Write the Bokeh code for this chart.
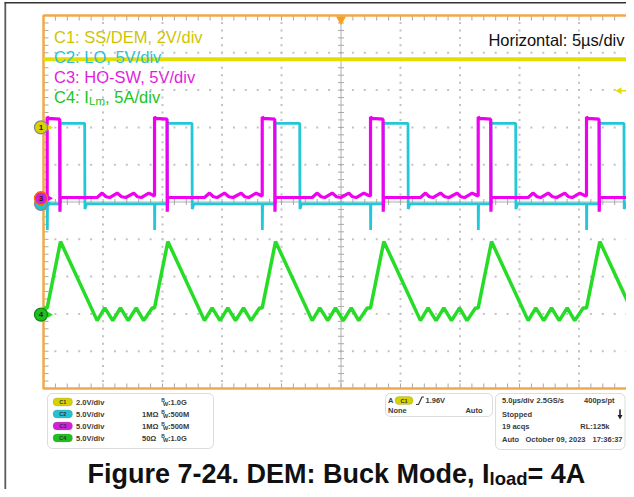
import numpy as np
from bokeh.plotting import figure
from bokeh.models import Range1d, BoxAnnotation
from bokeh.core.properties import value
from bokeh.embed import file_html
from bokeh.resources import INLINE

# ---------------- values ----------------
us_per_div = 5.0
channel_names = ["C1", "C2", "C3", "C4"]
volts_per_div = [2.0, 5.0, 5.0, 5.0]           # C4 is A/div
ground_div = [2.0, -0.05, 0.1, -3.02]          # channel reference markers (div from centre)
trigger_level_v = 1.96

# rising edges of HO-SW (start of each switching cycle), microseconds
cycle_start_us = [0.31, 9.33, 18.38, 27.48, 36.53, 45.63]

# C1: SS/DEM (V)
c1_t_us = [0.0, 50.0]
c1_v = [3.66, 3.66]

# C2: LO (V), one cycle relative to the cycle start
c2_start_v = 0.0
c2_dt_us = [0.00, 0.01, 0.03, 1.07, 1.08, 1.20, 3.15, 3.17, 3.30, 9.00]
c2_v = [0.0, -3.5, 0.0, 0.0, 10.95, 10.8, 10.8, -0.7, 0.0, 0.0]

# C3: HO-SW (V), one cycle relative to the cycle start
c3_start_v = 0.4
c3_dt_us = [0.00, 0.00, 0.12, 1.05, 1.07, 1.10, 4.20, 4.62, 4.95, 5.25, 5.88,
            6.25, 6.60, 7.28, 7.60, 7.90, 8.54, 8.90]
c3_v = [0.3, 10.9, 10.7, 10.6, -1.8, 0.1, 0.1, 0.7, 0.2, 0.1, 0.7,
        0.2, 0.1, 0.7, 0.2, 0.1, 0.7, 0.4]

# C4: inductor current ILm (A), one cycle relative to the cycle start
c4_start_a = 0.85
c4_dt_us = [0.00, 1.12, 4.20, 4.84, 5.51, 6.16, 6.81, 7.48, 8.11, 8.82]
c4_a = [0.9, 9.8, -0.8, 0.9, -0.8, 0.9, -0.8, 0.9, -0.8, 0.9]

legend_lines = ["C1: SS/DEM, 2V/div", "C2: LO, 5V/div", "C3: HO-SW, 5V/div"]
info_vdiv = ["2.0V/div", "5.0V/div", "5.0V/div", "5.0V/div"]
info_term = ["", "1M\u03a9", "1M\u03a9", "50\u03a9"]
info_bw = [":1.0G", ":500M", ":500M", ":1.0G"]

# ---------------- colours ----------------
trace_col = ["#e2de00", "#22c8d8", "#f000f0", "#26dc26"]
text_col = ["#d0c400", "#2cc2d2", "#e01ee0", "#22c422"]
pill_col = ["#d8d200", "#24c2d0", "#d420d4", "#1fbf1f"]
ORANGE = "#f2a84a"
FONT = "Liberation Sans"

# ---------------- geometry (graticule: 10 x 10 div) ----------------
W, H = 626, 489
PX_US = 59.5 / us_per_div
PX_DIV = 37.3


def X(px):
    return (px - 43.0) / PX_US


def Y(py):
    return (201.5 - py) / PX_DIV


p = figure(width=W, height=H, x_range=Range1d(X(0), X(W)),
           y_range=Range1d(Y(H), Y(0)), toolbar_location=None,
           output_backend="svg", min_border=0, x_axis_location=None,
           y_axis_location=None, outline_line_color=None,
           background_fill_color="white", border_fill_color="white")
p.grid.visible = False

# document frame
p.line([X(4.8), X(4.8)], [Y(2), Y(H)], line_color="#5a5a5a", line_width=1.8)
p.line([X(4), X(W)], [Y(2.3), Y(2.3)], line_color="#333333", line_width=1.5)

# ---------------- graticule ----------------
minor_y = np.round(np.arange(-5.0, 5.001, 0.2), 3)
minor_x = np.arange(0.0, 50.001, 1.0)
dx, dy = [], []
for k in range(1, 10):
    if k == 5:
        continue
    xv = k * us_per_div
    dx += [xv] * len(minor_y[1:-1]); dy += list(minor_y[1:-1])
for k in range(-4, 5):
    if k == 0:
        continue
    dx += list(minor_x[1:]); dy += [k] * len(minor_x[1:])
p.scatter(dx, dy, marker="square", size=2, fill_color="#c2c2c2", line_color=None)

# centre cross with ticks
cx = 5 * us_per_div
p.segment(x0=[cx, 0], y0=[-5, 0], x1=[cx, 50], y1=[5, 0], line_color="#b0b0b0", line_width=1)
hx = 3 / PX_US
hy = 3 / PX_DIV
p.segment(x0=[cx - hx] * len(minor_y), y0=minor_y, x1=[cx + hx] * len(minor_y), y1=minor_y,
          line_color="#a8a8a8", line_width=1)
p.segment(x0=minor_x, y0=[-hy] * len(minor_x), x1=minor_x, y1=[hy] * len(minor_x),
          line_color="#a8a8a8", line_width=1)
# border ticks
p.segment(x0=[0] * len(minor_y), y0=minor_y, x1=[5 / PX_US] * len(minor_y), y1=minor_y,
          line_color="#a8a8a8", line_width=1)
p.segment(x0=minor_x, y0=[5] * len(minor_x), x1=minor_x, y1=[5 - 5 / PX_DIV] * len(minor_x),
          line_color="#a8a8a8", line_width=1)
p.segment(x0=minor_x, y0=[-5] * len(minor_x), x1=minor_x, y1=[-5 + 5 / PX_DIV] * len(minor_x),
          line_color="#a8a8a8", line_width=1)
# orange border
p.line([50, 0, 0, 50], [5, 5, -5, -5], line_color=ORANGE, line_width=2.5)
p.scatter([cx], [5 - 4 / PX_DIV], marker="inverted_triangle", size=10,
          fill_color="#f5a020", line_color=None)


# ---------------- traces ----------------
def build(start_val, dts, vals):
    t, v = [0.0], [start_val]
    for s in cycle_start_us:
        t += [s + d for d in dts]
        v += list(vals)
    return t, v


def to_div(ch, vals):
    return [ground_div[ch] + x / volts_per_div[ch] for x in vals]


p.line(c1_t_us, to_div(0, c1_v), line_color=trace_col[0], line_width=4)
t2, v2 = build(c2_start_v, c2_dt_us, c2_v)
p.line(t2, to_div(1, v2), line_color=trace_col[1], line_width=2.8)
t3, v3 = build(c3_start_v, c3_dt_us, c3_v)
p.line(t3, to_div(2, v3), line_color=trace_col[2], line_width=3.2)
t4, v4 = build(c4_start_a, c4_dt_us, c4_a)
p.line(t4, to_div(3, v4), line_color=trace_col[3], line_width=3.5)

# channel reference markers
mk_x = X(40.5)
order = [1, 0, 2, 3]
marker_line = ["#8a8a8a", "#8a8a8a", "#ff6a00", "#148a14"]
for ch in order:
    p.scatter([X(49)], [ground_div[ch]], marker="triangle", angle=-np.pi / 2, size=6,
              fill_color=trace_col[ch], line_color=None)
    p.scatter([mk_x], [ground_div[ch]], marker="circle", size=13, fill_color=pill_col[ch],
              line_color=marker_line[ch], line_width=1.3)
p.text([mk_x] * 3, [ground_div[0], ground_div[2], ground_div[3]], ["1", "3", "4"],
       text_font=value(FONT), text_font_size=value("8px"), text_font_style="bold",
       text_color="#222222", text_align="center", text_baseline="middle")

# trigger level arrow on the right edge
trig_y = ground_div[0] + trigger_level_v / volts_per_div[0]
p.line([X(620), X(W)], [trig_y, trig_y], line_color="#e2de00", line_width=1.5)
p.scatter([X(619)], [trig_y], marker="triangle", angle=np.pi / 2, size=7,
          fill_color="#e2de00", line_color=None)


# ---------------- texts ----------------
def txt(xs, ys, labels, size, color, bold=False, align="left", baseline="middle"):
    p.text([X(a) for a in xs], [Y(b) for b in ys], labels, text_font=value(FONT),
           text_font_size=value(size), text_font_style="bold" if bold else "normal",
           text_color=color, text_align=align, text_baseline=baseline)


legend_base = [36.5, 56.5, 76.5, 96.5]
for i in range(3):
    txt([53.5], [legend_base[i]], [legend_lines[i]], "16.5px", text_col[i], baseline="alphabetic")
txt([53.5], [96.5], ["C4: I"], "16.5px", text_col[3], baseline="alphabetic")
txt([88.6], [100.0], ["Lm"], "11.5px", text_col[3], baseline="alphabetic")
txt([104.6], [96.5], [", 5A/div"], "16.5px", text_col[3], baseline="alphabetic")
txt([624], [39], ["Horizontal: 5\u00b5s/div"], "16.5px", "#111111", align="right",
    baseline="alphabetic")

# info boxes
for (l, r, t, b) in [(47, 213, 393, 448), (385, 492, 393, 416), (495, 624.5, 393, 449)]:
    p.add_layout(BoxAnnotation(left=X(l), right=X(r), top=Y(t), bottom=Y(b),
                               fill_color="white", fill_alpha=1.0, line_color="#8c8c8c",
                               line_width=1, border_radius=5, level="underlay"))

rows = [401.5, 413.5, 425.5, 437.5]
SMALL = "7.5px"
DARK = "#3a3a3a"
for i in range(4):
    p.add_layout(BoxAnnotation(left=X(52.5), right=X(72), top=Y(rows[i] - 4), bottom=Y(rows[i] + 4),
                               fill_color=pill_col[i], fill_alpha=1.0, line_color="#777777",
                               line_width=0.8, border_radius=4, level="underlay"))
txt([62.3] * 4, rows, channel_names, "5.5px", "#333333", bold=True, align="center")
txt([75.5] * 4, rows, info_vdiv, SMALL, DARK, bold=True)
txt([141.5] * 4, rows, info_term, SMALL, DARK, bold=True)
txt([160.8] * 4, [r - 2.2 for r in rows], ["B"] * 4, "5px", DARK, bold=True)
txt([162.6] * 4, [r + 1.6 for r in rows], ["W"] * 4, "5.5px", DARK, bold=True)
txt([167.5] * 4, rows, info_bw, SMALL, DARK, bold=True)

# trigger box
p.add_layout(BoxAnnotation(left=X(394.5), right=X(412.5), top=Y(396), bottom=Y(404),
                           fill_color=pill_col[0], fill_alpha=1.0, line_color="#777777",
                           line_width=0.8, border_radius=4, level="underlay"))
txt([403.5], [400], ["C1"], "5.5px", "#333333", bold=True, align="center")
txt([387.5], [400], ["A"], SMALL, DARK, bold=True)
p.line([X(415.5), X(418), X(421.5), X(423.5)], [Y(404), Y(404), Y(396.5), Y(396.5)],
       line_color=DARK, line_width=1.2)
txt([425], [400], [f"{trigger_level_v:.2f}V"], SMALL, DARK, bold=True)
txt([387.5], [409.5], ["None"], SMALL, DARK, bold=True)
txt([482], [409.5], ["Auto"], SMALL, DARK, bold=True, align="right")

# acquisition box
txt([501.5, 536], [399.5, 399.5], ["5.0\u00b5s/div", "2.5GS/s"], SMALL, DARK, bold=True)
txt([614], [399.5], ["400ps/pt"], SMALL, DARK, bold=True, align="right")
txt([501.5, 501.5, 501.5, 525], [414, 426, 438.5, 438.5],
    ["Stopped", "19 acqs", "Auto", "October 09, 2023"], SMALL, DARK, bold=True)
txt([609, 622], [426, 438.5], ["RL:125k", "17:36:37"], SMALL, DARK, bold=True, align="right")
p.line([X(619.5), X(619.5)], [Y(409), Y(414.5)], line_color="#222222", line_width=1.6)
p.scatter([X(619.5)], [Y(416)], marker="inverted_triangle", size=5, fill_color="#222222",
          line_color=None)

# caption
txt([87], [473], ["Figure 7-24. DEM: Buck Mode, I"], "27px", "#111111", bold=True,
    baseline="alphabetic")
txt([489], [477.5], ["load"], "18.5px", "#111111", bold=True, baseline="alphabetic")
txt([527], [473], ["= 4A"], "27px", "#111111", bold=True, baseline="alphabetic")

open("out.html", "w").write(file_html(p, INLINE))
